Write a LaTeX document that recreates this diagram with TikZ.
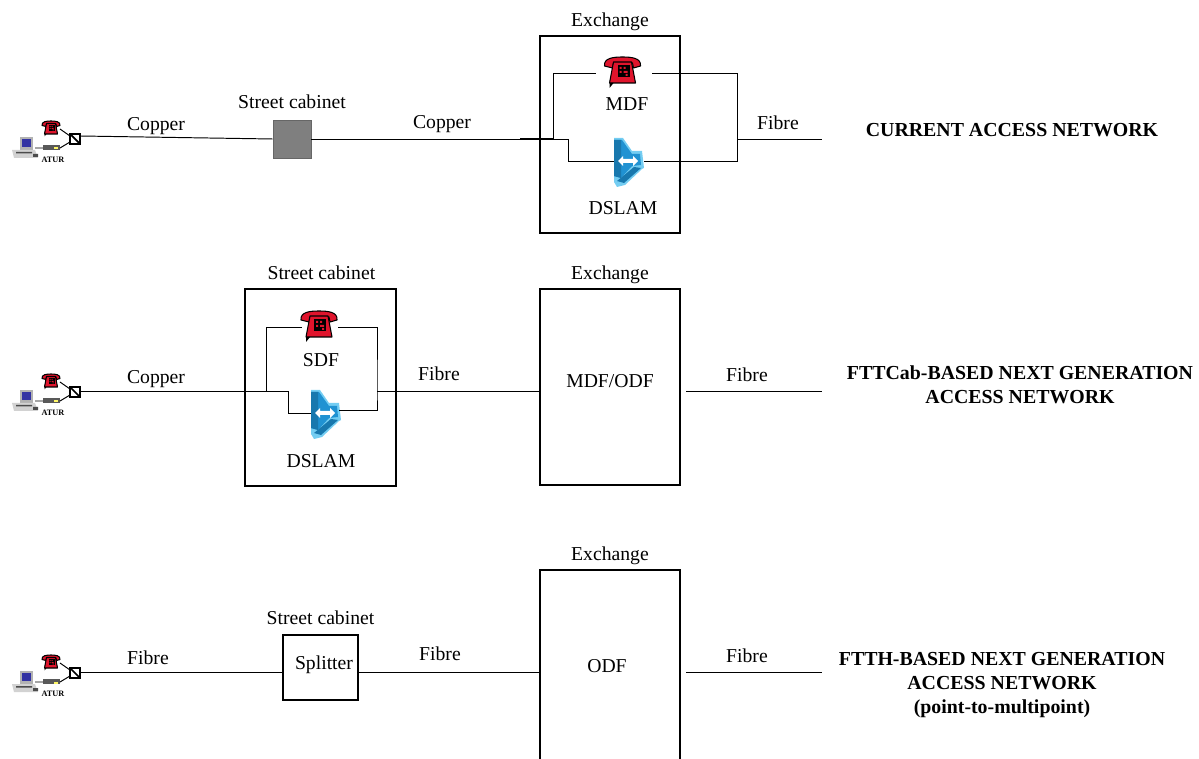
\documentclass[tikz,border=0pt]{standalone}
\usepackage{fontspec}
\setmainfont{Liberation Serif}
\usepackage{xcolor}
\usetikzlibrary{positioning,calc}

\definecolor{phonered}{HTML}{E0142C}
\definecolor{dslamblue}{HTML}{2092D2}
\definecolor{dslamdark}{HTML}{1878AE}
\definecolor{dslamlight}{HTML}{74CDF2}
\definecolor{cabgray}{HTML}{7F7F7F}

\tikzset{
    phone/.pic={
        \filldraw[fill=phonered, draw=black, line width=0.6pt, line join=round]
            (-18,-7) .. controls (-19,-15) and (-9,-16) .. (0,-16)
            .. controls (9,-16) and (19,-15) .. (18,-7)
            -- (11,-5) -- (10,-10) -- (-9,-10) -- (-10,-5) -- cycle;
        \filldraw[fill=phonered, draw=black, line width=0.6pt, line join=round]
            (-9,-11) -- (9,-11) -- (13,10) -- (-13,10) -- cycle;
        \fill[black] (-13,10) -- (-9,10) -- (-13,15) -- cycle;
        \fill[black] (-5,-8) rectangle (7,4);
        \fill[phonered] (-3,-6) rectangle (-1,-4) (1,-6) rectangle (3,-4)
            (-3,-2) rectangle (-1,0) (1,-2) rectangle (5,0) (3,1) rectangle (5,3);
    },
    dslamicon/.pic={
        \fill[dslamlight] (-15,-23) -- (-6,-23) -- (3,-10) -- (13,-10) -- (15,7)
            -- (13,8) -- (-4,24) -- (-12,26) -- (-15,21) -- cycle;
        \fill[dslamblue] (-15,-21) -- (-7,-21) -- (3,-7) -- (11,-7) -- (12,4)
            -- (3,5) -- (-8,17) -- (-15,15) -- cycle;
        \fill[dslamdark] (-15,-21) -- (-8,-21) -- (-8,17) -- (-15,15) -- cycle;
        \fill[dslamdark] (-12,20) -- (-5,22) -- (12,7) -- (5,6) -- cycle;
        \fill[white] (-11,0) -- (-6,-5) -- (-6,-2) -- (4,-2) -- (4,-5) -- (9,0)
            -- (4,5) -- (4,2) -- (-6,2) -- (-6,5) -- cycle;
    },
    atur/.pic={
        % Ordenador
        \fill[gray!60] (-55,-2) rectangle (-42,11);
        \fill[blue!55!black!80] (-53,0) rectangle (-44,8);
        \fill[gray!35] (-63,11) -- (-40,11) -- (-37,19) -- (-61,19) -- cycle;
        \fill[black!70] (-59,13) rectangle (-43,14.5) (-42,15) rectangle (-37,18);
        % Modem
        \fill[black!65] (-32,6) rectangle (-15,11);
        \fill[yellow!60] (-21,8.5) rectangle (-17,10.5);
        \draw[link] (-40,9) -- (-32,9) (-15,9) -- (-5,3);
        \draw[link] (-15,-10) -- (-5,-3);
        % Telefono
        \pic[scale=0.5] at (-24,-10) {phone};
        \draw[boxline] (-5,-5) rectangle (5,5) (-5,-5) -- (5,5);
        \node[font=\bfseries\fontsize{4.7}{5}\selectfont, inner sep=0pt] at (-22,21) {ATUR};
    }
}

\begin{document}
\begin{tikzpicture}[
    x=0.02cm, y=-0.02cm,
    every node/.style={font=\fontsize{11.2}{13}\selectfont},
    link/.style={line width=0.55pt},
    boxline/.style={line width=1pt},
    site/.style={rectangle, draw, line width=1pt, minimum width=2.81cm, minimum height=3.93cm, inner sep=0pt},
    cabinet/.style={rectangle, draw, line width=1pt, minimum width=3.02cm, minimum height=3.93cm, inner sep=0pt},
    spot/.style={inner sep=0pt, minimum height=0.02cm},
    title/.style={font=\bfseries\fontsize{11.3}{13.9}\selectfont, align=center}
]
    \clip (0,0) rectangle (1199,759);

    % Current access network
    \pic at (75,139) {atur};
    \coordinate (user1) at (80,136);
    \node[rectangle, draw=black!60, line width=0.4pt, fill=cabgray, minimum width=0.76cm, minimum height=0.76cm, inner sep=0pt] (cab1) at (292,139) {};
    \node[site] (exch1) at (610,134.5) {};
    \node[spot, minimum width=1.12cm] (mdf) at (624,73) {};
    \node[spot, minimum width=0.6cm] (dslam1) at (629,161) {};
    \pic at (622.5,73) {phone};
    \pic at (629,161) {dslamicon};
    \coordinate (join1) at (553,139);
    \coordinate (turn1) at (568,139);
    \coordinate (lead1) at (520,139);
    \coordinate (out1) at (737,139);
    \coordinate (end1) at (822,139);
    \draw[link] (user1) -- (cab1.west);
    \draw[link] (cab1.east) -- (join1);
    \draw[boxline] (lead1) -- (join1);
    \draw[link] (join1) |- (mdf.west);
    \draw[link] (join1) -- (turn1) |- (dslam1.west);
    \draw[link] (mdf.east) -| (out1) |- (dslam1.east);
    \draw[link] (out1) -- (end1);

    \node at (156,126) {Copper};
    \node[above=2.5pt of cab1] {Street cabinet};
    \node at (442,124) {Copper};
    \node[above=-1pt of exch1] {Exchange};
    \node at (627,104) {MDF};
    \node at (623,208) {DSLAM};
    \node at (778,123) {Fibre};
    \node[title] at (1012,130) {CURRENT ACCESS NETWORK};

    % FTTCab
    \pic at (75,392) {atur};
    \coordinate (user2) at (80,391.5);
    \node[cabinet] (cab2) at (320.5,387.5) {};
    \node[site] (exch2) at (610,387) {};
    \node[spot, minimum width=0.72cm] (sdf) at (320,327) {};
    \node[spot, minimum width=0.6cm] (dslam2) at (326,413) {};
    \pic at (319,327) {phone};
    \pic at (326,413) {dslamicon};
    \coordinate (join2) at (266,391.5);
    \coordinate (turn2) at (288,391.5);
    \coordinate (out2) at (377,391);
    \coordinate (back2) at (339,410);
    \coordinate (from2) at (686,391);
    \coordinate (end2) at (822,391);
    \draw[link] (user2) -- (join2);
    \draw[link] (join2) |- (sdf.west);
    \draw[link] (join2) -- (turn2) |- (dslam2.west);
    \draw[link] (sdf.east) -| (out2) |- (back2);
    \draw[link] (out2) -- (exch2.west |- out2);
    \draw[link] (from2) -- (end2);

    \node at (156,379) {Copper};
    \node[above=1.2pt of cab2, xshift=0.5pt] {Street cabinet};
    \node at (439,374) {Fibre};
    \node[above=-1pt of exch2] {Exchange};
    \node at (321,360) {SDF};
    \node at (321,461) {DSLAM};
    \node at (610,381) {MDF/ODF};
    \node at (747,375) {Fibre};
    \node[title] at (1020,385) {FTTCab-BASED NEXT GENERATION\\ACCESS NETWORK};

    % FTTH
    \pic at (75,673) {atur};
    \coordinate (user3) at (80,672);
    \node[rectangle, draw, boxline, minimum width=1.51cm, minimum height=1.3cm, inner sep=0pt] (split) at (320.5,667.5) {};
    \node[site, minimum height=5cm, anchor=north] (exch3) at (610,569) {};
    \coordinate (site3) at (540,672);
    \coordinate (from3) at (686,672);
    \coordinate (end3) at (822,672);
    \draw[link] (user3) -- (split.west |- user3);
    \draw[link] (split.east |- user3) -- (site3);
    \draw[link] (from3) -- (end3);

    \node at (148,658) {Fibre};
    \node[above=2pt of split] {Street cabinet};
    \node at (324,665) {Splitter};
    \node at (440,654) {Fibre};
    \node[above=-1pt of exch3] {Exchange};
    \node at (607,666) {ODF};
    \node at (747,656) {Fibre};
    \node[title] at (1002,685) {FTTH-BASED NEXT GENERATION\\ACCESS NETWORK\\(point-to-multipoint)};
\end{tikzpicture}
\end{document}
